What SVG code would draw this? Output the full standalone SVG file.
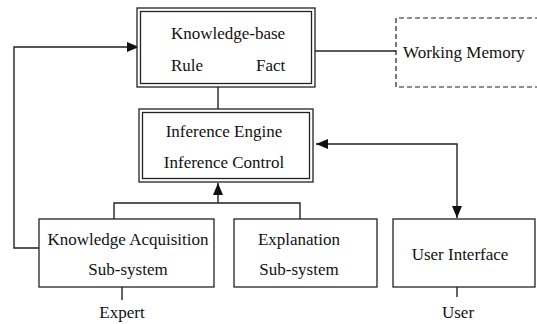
<svg xmlns="http://www.w3.org/2000/svg" width="537" height="324" viewBox="0 0 537 324">
<style>
text{font-family:"Liberation Serif","Times New Roman",serif;font-size:17px;fill:#111}
.box{fill:#fff;stroke:#222;stroke-width:1.3}
.inner{fill:none;stroke:#222;stroke-width:1.3}
.dash{fill:none;stroke:#222;stroke-width:1.2;stroke-dasharray:5,3}
.ln{fill:none;stroke:#222;stroke-width:1.4}
</style>
<defs>
<marker id="ah" viewBox="0 0 12 10" refX="12" refY="5" markerWidth="12" markerHeight="10" markerUnits="userSpaceOnUse" orient="auto-start-reverse">
<path d="M0,0 L12,5 L0,10 Z" fill="#111"/>
</marker>
</defs>
<g id="connectors">
<polyline class="ln" points="39,248 14,248 14,47 139,47" marker-end="url(#ah)"/>
<line class="ln" x1="218" y1="87" x2="218" y2="109"/>
<line class="ln" x1="315" y1="51" x2="396" y2="51"/>
<polyline class="ln" points="114,219 114,203 300,203 300,219"/>
<line class="ln" x1="218" y1="203" x2="218" y2="183" marker-end="url(#ah)"/>
<polyline class="ln" points="316,144 457,144 457,218" marker-start="url(#ah)" marker-end="url(#ah)"/>
<line class="ln" x1="122" y1="287" x2="122" y2="300"/>
<line class="ln" x1="457" y1="287" x2="457" y2="297"/>
</g>
<g id="knowledge-base">
<rect class="box" x="137" y="8" width="178" height="79"/>
<rect class="inner" x="140.5" y="11.5" width="171" height="72"/>
<text x="228" y="39" text-anchor="middle">Knowledge-base</text>
<text x="171" y="71">Rule</text>
<text x="256" y="71">Fact</text>
</g>
<g id="working-memory">
<path class="dash" d="M540,18 H396 V87 H540"/>
<text x="403" y="58">Working Memory</text>
</g>
<g id="inference-engine">
<rect class="box" x="139" y="109" width="174" height="73"/>
<rect class="inner" x="142.5" y="112.5" width="167" height="66"/>
<text x="224" y="137" text-anchor="middle">Inference Engine</text>
<text x="224" y="168" text-anchor="middle">Inference Control</text>
</g>
<g id="knowledge-acquisition">
<rect class="box" x="39" y="219" width="175" height="68"/>
<text x="128" y="245" text-anchor="middle">Knowledge Acquisition</text>
<text x="128" y="275" text-anchor="middle">Sub-system</text>
</g>
<g id="explanation">
<rect class="box" x="234" y="219" width="143" height="68"/>
<text x="299" y="245" text-anchor="middle">Explanation</text>
<text x="299" y="275" text-anchor="middle">Sub-system</text>
</g>
<g id="user-interface">
<rect class="box" x="393" y="219" width="142" height="68"/>
<text x="460" y="260" text-anchor="middle">User Interface</text>
</g>
<g id="expert">
<text x="122" y="318" text-anchor="middle">Expert</text>
</g>
<g id="user">
<text x="458" y="318" text-anchor="middle">User</text>
</g>
</svg>
